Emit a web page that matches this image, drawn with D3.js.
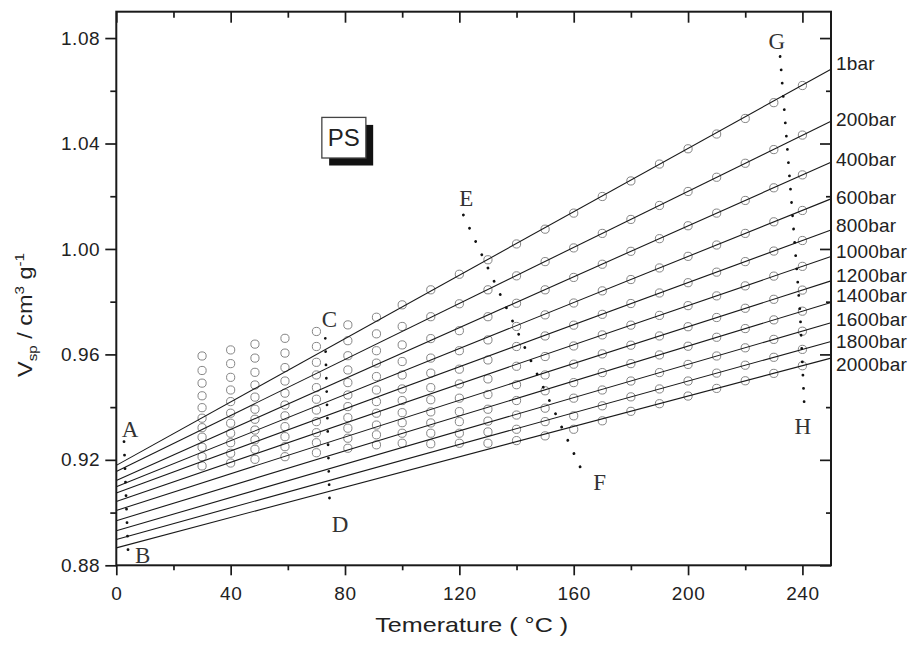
<!DOCTYPE html>
<html>
<head>
<meta charset="utf-8">
<script src="https://cdn.jsdelivr.net/npm/d3@7"></script>
<style>
  html, body { margin: 0; padding: 0; background: #fff; }
  svg { display: block; }
  text { font-family: "Liberation Sans", Arial, sans-serif; fill: #222; }
</style>
</head>
<body>
<svg id="chart" width="915" height="653"></svg>
<script>
// ---------------- data ----------------
const temps = [30, 40, 48.5, 59, 70, 81, 91, 100, 110, 120, 130, 140, 150, 160, 170, 180, 190, 200, 210, 220, 230, 240];
const pressures = ["1bar", "200bar", "400bar", "600bar", "800bar", "1000bar", "1200bar", "1400bar", "1600bar", "1800bar", "2000bar"];

const v1bar    = [0.9594, 0.9617, 0.9639, 0.9661, 0.9687, 0.9712, 0.9741, 0.9788, 0.9845, 0.9904, 0.9959, 1.0019, 1.0075, 1.0136, 1.0199, 1.0258, 1.0322, 1.0380, 1.0436, 1.0495, 1.0555, 1.0620];
const v200bar  = [0.9539, 0.9565, 0.9586, 0.9605, 0.9630, 0.9652, 0.9678, 0.9706, 0.9743, 0.9792, 0.9845, 0.9898, 0.9952, 1.0004, 1.0059, 1.0112, 1.0165, 1.0218, 1.0272, 1.0325, 1.0377, 1.0432];
const v400bar  = [0.9491, 0.9513, 0.9532, 0.9550, 0.9570, 0.9595, 0.9614, 0.9636, 0.9660, 0.9690, 0.9743, 0.9794, 0.9845, 0.9892, 0.9942, 0.9991, 1.0039, 1.0088, 1.0136, 1.0184, 1.0232, 1.0281];
const v600bar  = [0.9443, 0.9465, 0.9484, 0.9499, 0.9522, 0.9541, 0.9567, 0.9573, 0.9586, 0.9614, 0.9655, 0.9706, 0.9750, 0.9795, 0.9841, 0.9884, 0.9928, 0.9972, 1.0015, 1.0059, 1.0103, 1.0146];
const v800bar  = [0.9398, 0.9421, 0.9438, 0.9453, 0.9474, 0.9493, 0.9516, 0.9522, 0.9529, 0.9544, 0.9579, 0.9630, 0.9670, 0.9711, 0.9752, 0.9793, 0.9833, 0.9872, 0.9912, 0.9952, 0.9992, 1.0032];
const v1000bar = [0.9358, 0.9377, 0.9392, 0.9408, 0.9430, 0.9446, 0.9465, 0.9469, 0.9474, 0.9488, 0.9507, 0.9555, 0.9592, 0.9632, 0.9674, 0.9711, 0.9748, 0.9785, 0.9822, 0.9860, 0.9897, 0.9934];
const v1200bar = [0.9322, 0.9339, 0.9354, 0.9367, 0.9389, 0.9402, 0.9421, 0.9425, 0.9428, 0.9434, 0.9448, 0.9485, 0.9522, 0.9563, 0.9602, 0.9635, 0.9670, 0.9705, 0.9740, 0.9775, 0.9809, 0.9844];
const v1400bar = [0.9286, 0.9301, 0.9313, 0.9326, 0.9345, 0.9360, 0.9377, 0.9379, 0.9382, 0.9383, 0.9392, 0.9425, 0.9462, 0.9493, 0.9531, 0.9565, 0.9598, 0.9631, 0.9665, 0.9698, 0.9731, 0.9764];
const v1600bar = [0.9248, 0.9265, 0.9276, 0.9288, 0.9303, 0.9320, 0.9332, 0.9341, 0.9340, 0.9345, 0.9347, 0.9370, 0.9396, 0.9434, 0.9465, 0.9499, 0.9531, 0.9562, 0.9594, 0.9625, 0.9657, 0.9688];
const v1800bar = [0.9212, 0.9225, 0.9240, 0.9250, 0.9265, 0.9282, 0.9295, 0.9301, 0.9301, 0.9301, 0.9306, 0.9316, 0.9345, 0.9367, 0.9405, 0.9439, 0.9469, 0.9499, 0.9529, 0.9559, 0.9589, 0.9619];
const v2000bar = [0.9177, 0.9188, 0.9202, 0.9212, 0.9227, 0.9244, 0.9257, 0.9263, 0.9261, 0.9263, 0.9263, 0.9273, 0.9291, 0.9316, 0.9348, 0.9384, 0.9413, 0.9442, 0.9471, 0.9500, 0.9528, 0.9557];

// Fitted (Tait) lines: value at start and end temperature
const fitT     = [0, 250];
const fitStart = [0.9179, 0.9156, 0.9122, 0.9098, 0.9074, 0.9042, 0.9008, 0.8969, 0.8931, 0.8898, 0.8866];
const fitEnd   = [1.0682, 1.0484, 1.0329, 1.0190, 1.0072, 0.9971, 0.9879, 0.9797, 0.9720, 0.9649, 0.9586];

// Dotted guide curves [T, V]
const curveAB = [[2.7, 0.9269], [4.1, 0.8858]];
const curveCD = [[73.1, 0.9661], [74.6, 0.9041]];
const curveEF = [[121.4, 1.0129], [162.9, 0.9158]];
const curveGH = [[232.2, 1.0730], [236.3, 1.0161], [239.2, 0.9756], [240.7, 0.9396]];
const curveNames = ["A", "B", "C", "D", "E", "F", "G", "H"];
const curveLabelPos = [[1.9, 0.9286], [6.5, 0.8808], [71.9, 0.9704], [75.4, 0.8928],
                       [120.0, 1.0164], [166.8, 0.9086], [228.1, 1.0758], [237.2, 0.9298]];

const xMajor = [0, 40, 80, 120, 160, 200, 240];
const xMinor = [20, 60, 100, 140, 180, 220];
const yMajor = [0.88, 0.92, 0.96, 1.00, 1.04, 1.08];
const yMinor = [0.90, 0.94, 0.98, 1.02, 1.06];

const series = [v1bar, v200bar, v400bar, v600bar, v800bar, v1000bar, v1200bar, v1400bar, v1600bar, v1800bar, v2000bar];

// ---------------- layout ----------------
const labelDy = [0.7, 5, 3.7, 5, 2, 1.3, 1.5, -0.2, 3.5, 6.3, 13.2]; // px, baseline offset from line end

const svg = d3.select("#chart");
const x = d3.scaleLinear().domain([0, 250]).range([116.3, 831]);
const y = d3.scaleLinear().domain([0.88, 1.09]).range([565.3, 11.7]);

// data circles
const pts = [];
series.forEach((s, i) => s.forEach((v, j) => pts.push({ t: temps[j], v: v })));
svg.append("g").selectAll("circle").data(pts).join("circle")
  .attr("cx", d => x(d.t)).attr("cy", d => y(d.v)).attr("r", 4.1)
  .attr("fill", "none").attr("stroke", "#858585").attr("stroke-width", 1);

// fitted lines
const line = d3.line().x(d => x(d[0])).y(d => y(d[1]));
svg.append("g").selectAll("path").data(pressures).join("path")
  .attr("d", (p, i) => line([[fitT[0], fitStart[i]], [fitT[1], fitEnd[i]]]))
  .attr("fill", "none").attr("stroke", "#1a1a1a").attr("stroke-width", 1.1);

// pressure labels
svg.append("g").selectAll("text").data(pressures).join("text")
  .attr("x", x(250) + 5).attr("y", (p, i) => y(fitEnd[i]) + labelDy[i])
  .attr("font-size", 19).attr("letter-spacing", 0.2).text(p => p);

// dotted guide curves
const curves = [[curveAB, 13.5], [curveCD, 13.3], [curveEF, 14.6], [curveGH, 13.3]];
svg.append("g").selectAll("path").data(curves).join("path")
  .attr("d", d => line(d[0]))
  .attr("fill", "none").attr("stroke", "#111").attr("stroke-width", 2.8)
  .attr("stroke-linecap", "round")
  .attr("stroke-dasharray", d => `0.01 ${d[1]}`);

svg.append("g").selectAll("text").data(curveNames).join("text")
  .attr("x", (c, i) => x(curveLabelPos[i][0])).attr("y", (c, i) => y(curveLabelPos[i][1]))
  .style("font-family", '"Liberation Serif", "Times New Roman", serif')
  .attr("font-size", 23).style("fill", "#333").text(c => c);

// PS box
const bx0 = x(71.9), bx1 = x(87.3), by0 = y(1.0499), by1 = y(1.0345);
svg.append("rect").attr("x", bx0 + 7.3).attr("y", by0 + 7.5).attr("width", bx1 - bx0).attr("height", by1 - by0).attr("fill", "#111");
svg.append("rect").attr("x", bx0).attr("y", by0).attr("width", bx1 - bx0).attr("height", by1 - by0)
  .attr("fill", "#fff").attr("stroke", "#444").attr("stroke-width", 1.3);
svg.append("text").attr("x", (bx0 + bx1) / 2).attr("y", by0 + 29).attr("text-anchor", "middle")
  .attr("font-size", 24).text("PS");

// axes
function styleAxis(g) {
  g.select(".domain").remove();
  g.selectAll(".tick line").attr("stroke", "#1a1a1a").attr("stroke-width", 1.7);
  g.selectAll(".tick text").attr("font-size", 19).attr("letter-spacing", 0.6)
    .style("font-family", '"Liberation Sans", Arial, sans-serif').attr("fill", "#222");
}
const yb = y(0.88), yt = y(1.09), xl = x(0), xr = x(250);
svg.append("g").attr("transform", `translate(0,${yb})`)
  .call(d3.axisBottom(x).tickValues(xMajor).tickSize(10).tickSizeOuter(0).tickPadding(11).tickFormat(d3.format("d"))).call(styleAxis);
svg.append("g").attr("transform", `translate(0,${yb})`)
  .call(d3.axisBottom(x).tickValues(xMinor).tickSize(5).tickSizeOuter(0).tickFormat("")).call(styleAxis);
svg.append("g").attr("transform", `translate(0,${yt})`)
  .call(d3.axisTop(x).tickValues(xMajor).tickSize(-11).tickSizeOuter(0).tickFormat("")).call(styleAxis);
svg.append("g").attr("transform", `translate(0,${yt})`)
  .call(d3.axisTop(x).tickValues(xMinor).tickSize(-6).tickSizeOuter(0).tickFormat("")).call(styleAxis);
svg.append("g").attr("transform", `translate(${xl},0)`)
  .call(d3.axisLeft(y).tickValues(yMajor).tickSize(11).tickSizeOuter(0).tickPadding(5).tickFormat(d3.format(".2f"))).call(styleAxis);
svg.append("g").attr("transform", `translate(${xl},0)`)
  .call(d3.axisLeft(y).tickValues(yMinor).tickSize(6).tickSizeOuter(0).tickFormat("")).call(styleAxis);
svg.append("g").attr("transform", `translate(${xr},0)`)
  .call(d3.axisRight(y).tickValues(yMajor).tickSize(-11).tickSizeOuter(0).tickFormat("")).call(styleAxis);
svg.append("g").attr("transform", `translate(${xr},0)`)
  .call(d3.axisRight(y).tickValues(yMinor).tickSize(-5).tickSizeOuter(0).tickFormat("")).call(styleAxis);

// frame
svg.append("rect").attr("x", xl).attr("y", yt).attr("width", xr - xl).attr("height", yb - yt)
  .attr("fill", "none").attr("stroke", "#1a1a1a").attr("stroke-width", 2);

// x title
const xt = svg.append("text").attr("text-anchor", "middle").attr("font-size", 21);
xt.append("tspan").text("Temerature ( ");
xt.append("tspan").text("°C");
xt.append("tspan").text(" )");
{
  const w = xt.node().getComputedTextLength();
  const sx = 193 / w;
  xt.attr("transform", `translate(471.7,632) scale(${sx},1)`);
}

// y title
const ytl = svg.append("text").attr("text-anchor", "middle").attr("font-size", 20);
ytl.append("tspan").text("V");
ytl.append("tspan").attr("font-size", 13).attr("dy", 5).text("sp");
ytl.append("tspan").attr("dy", -5).text(" / cm");
ytl.append("tspan").attr("font-size", 13).attr("dy", -8).text("3");
ytl.append("tspan").attr("dy", 8).text(" g");
ytl.append("tspan").attr("font-size", 13).attr("dy", -8).text("-1");
{
  const w = ytl.node().getComputedTextLength();
  const sx = 124 / w;
  ytl.attr("transform", `translate(32,315) rotate(-90) scale(${sx},1)`);
}
</script>
</body>
</html>
